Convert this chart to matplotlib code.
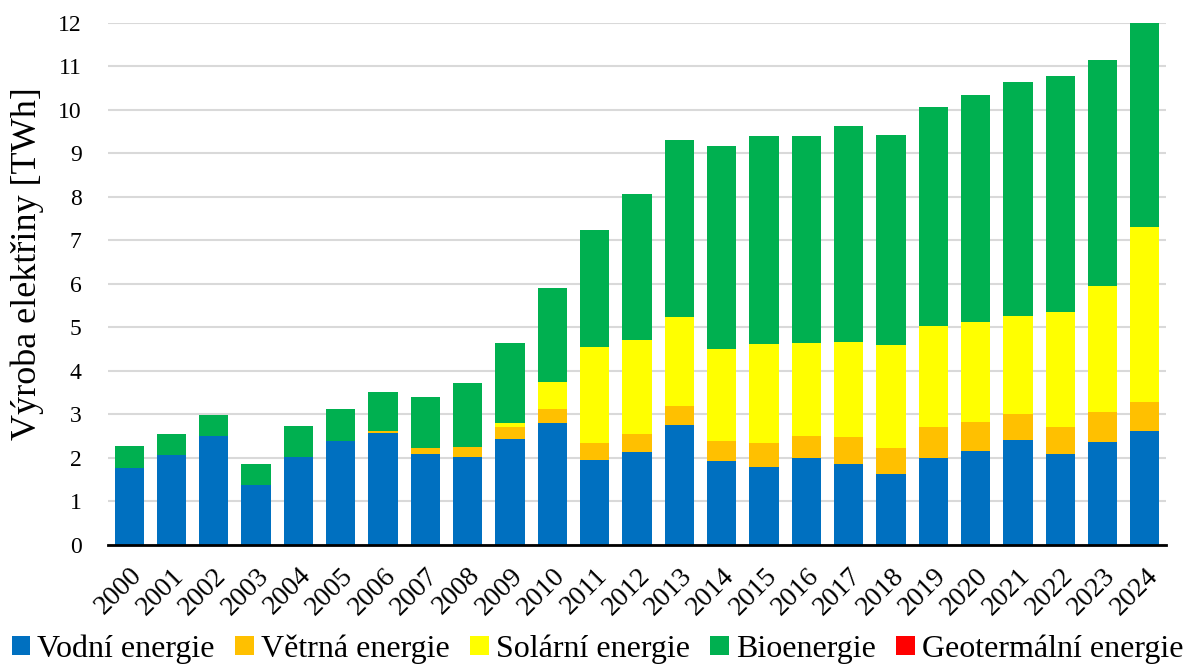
import matplotlib
matplotlib.use("Agg")
import matplotlib.pyplot as plt
import numpy as np

years = [str(y) for y in range(2000, 2025)]

vodni = [1.77, 2.06, 2.51, 1.39, 2.03, 2.39, 2.57, 2.10, 2.03, 2.44, 2.80, 1.96, 2.14,
         2.75, 1.92, 1.80, 2.01, 1.87, 1.64, 2.01, 2.15, 2.42, 2.10, 2.37, 2.62]
vetrna = [0.0, 0.0, 0.0, 0.0, 0.0, 0.0, 0.04, 0.13, 0.23, 0.27, 0.32, 0.39, 0.41,
          0.44, 0.46, 0.55, 0.49, 0.60, 0.60, 0.69, 0.68, 0.59, 0.62, 0.69, 0.67]
solarni = [0.0, 0.0, 0.0, 0.0, 0.0, 0.0, 0.0, 0.0, 0.0, 0.10, 0.63, 2.20, 2.15,
           2.05, 2.13, 2.27, 2.13, 2.19, 2.35, 2.33, 2.29, 2.25, 2.63, 2.90, 4.01]
bio = [0.50, 0.50, 0.47, 0.48, 0.71, 0.73, 0.90, 1.18, 1.46, 1.84, 2.16, 2.69, 3.37,
       4.06, 4.66, 4.78, 4.76, 4.96, 4.84, 5.04, 5.22, 5.38, 5.42, 5.19, 4.72]
geotermalni = [0.0] * 25

series = [
    ("Vodní energie", vodni, "#0070C0"),
    ("Větrná energie", vetrna, "#FFC000"),
    ("Solární energie", solarni, "#FFFF00"),
    ("Bioenergie", bio, "#00B050"),
    ("Geotermální energie", geotermalni, "#FF0000"),
]

plt.rcParams["font.family"] = ["Liberation Serif", "DejaVu Serif"]

fig = plt.figure(figsize=(11.89, 6.67), dpi=100)
ax = fig.add_axes([0.0908, 0.1829, 0.8899, 0.7831])

x = np.arange(len(years))
bottom = np.zeros(len(years))
for name, vals, color in series:
    vals = np.array(vals)
    ax.bar(x, vals, width=0.69, bottom=bottom, color=color, label=name,
           edgecolor="none", zorder=3)
    bottom += vals

ax.set_xlim(-0.5, len(years) - 0.5)
ax.set_ylim(0, 12)
ax.set_yticks(range(0, 13))
ax.set_xticks(x)
ax.set_xticklabels(years, rotation=45, ha="right", rotation_mode="anchor")
ax.tick_params(axis="both", length=0)
ax.tick_params(axis="x", pad=13, labelsize=20)
ax.tick_params(axis="y", pad=19, labelsize=17)

ax.grid(axis="y", color="#D9D9D9", linewidth=1.5, zorder=0)
for s in ("top", "right", "left"):
    ax.spines[s].set_visible(False)
ax.spines["bottom"].set_color("black")
ax.spines["bottom"].set_linewidth(2)
ax.spines["bottom"].set_zorder(4)

ax.set_ylabel("Výroba elektřiny [TWh]", fontsize=26)
ax.yaxis.set_label_coords(-0.0605, 0.538)

fig.legend(*ax.get_legend_handles_labels(), loc="center",
           bbox_to_anchor=(0.5025, 0.027), bbox_transform=fig.transFigure,
           ncol=5, frameon=False, fontsize=23, handlelength=0.58,
           handleheight=0.58, handletextpad=0.22, columnspacing=0.64,
           borderaxespad=0, borderpad=0)

fig.savefig("out.png", dpi=100)
